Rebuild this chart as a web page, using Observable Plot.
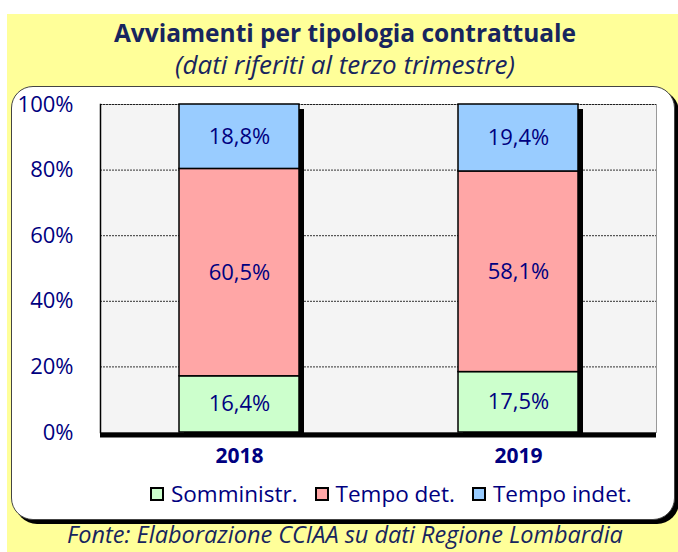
<!DOCTYPE html>
<html>
<head>
<meta charset="utf-8">
<script src="https://cdn.jsdelivr.net/npm/d3@7"></script>
<script src="https://cdn.jsdelivr.net/npm/@observablehq/plot@0.6"></script>
<style>
  html, body { margin: 0; padding: 0; background: #fff; }
  #root { position: relative; width: 678px; height: 552px; overflow: hidden; font-family: "Open Sans", Lato, sans-serif; }
  #yellow { position: absolute; left: 7px; top: 14px; width: 671px; height: 538px; background: #FFFF99; }
  #panel { position: absolute; left: 11px; top: 86px; width: 662px; height: 432px; background: #fff; border: 1px solid #444; border-radius: 22px; box-shadow: 4px 4px 0 #000; }
  #title { position: absolute; left: 0; width: 690px; top: 18px; text-align: center; font-weight: bold; font-size: 24.5px; line-height: 30px; color: #17255E; }
  #subtitle { position: absolute; left: 0; width: 690px; top: 49px; text-align: center; font-style: italic; font-size: 26px; line-height: 30px; color: #17255E; }
  #chart { position: absolute; left: 0; top: 86px; }
  #legend { position: absolute; left: 150px; top: 479px; display: flex; gap: 17px; font-size: 22.5px; line-height: 30px; color: #000080; }
  #legend span.item { display: flex; align-items: center; }
  #legend span.sw { display: inline-block; width: 10px; height: 10px; border: 2px solid #000; margin-right: 7px; }
  #caption { position: absolute; left: 0; width: 690px; top: 521px; text-align: center; font-style: italic; font-size: 23.5px; line-height: 26px; color: #17255E; white-space: nowrap; }
</style>
</head>
<body>
<div id="root">
  <div id="yellow"></div>
  <div id="panel"></div>
  <div id="title">Avviamenti per tipologia contrattuale</div>
  <div id="subtitle">(dati riferiti al terzo trimestre)</div>
  <div id="chart"></div>
  <div id="legend"></div>
  <div id="caption">Fonte: Elaborazione CCIAA su dati Regione Lombardia</div>
</div>
<script>
const years = ["2018", "2019"];
const series = ["Somministr.", "Tempo det.", "Tempo indet."];
const colors = ["#CCFFCC", "#FFA6A6", "#99CCFF"];
const somministr = [16.4, 17.5];
const tempoDet = [60.5, 58.1];
const tempoIndet = [18.8, 19.4];
const yTicks = [0, 0.2, 0.4, 0.6, 0.8, 1];

const values = [somministr, tempoDet, tempoIndet];
const data = [];
years.forEach((yr, i) => {
  series.forEach((s, j) => data.push({ year: yr, series: s, value: values[j][i] }));
});

const fmt = v => v.toFixed(1).replace(".", ",") + "%";

const chart = Plot.plot({
  width: 678,
  height: 420,
  marginTop: 18,
  marginBottom: 74,
  marginLeft: 100,
  marginRight: 22,
  style: { fontFamily: "'Open Sans', Lato, sans-serif", background: "transparent", overflow: "visible" },
  x: { type: "band", domain: years, paddingInner: 0.57, paddingOuter: 0.28, label: null },
  y: { domain: [0, 1], label: null },
  color: { domain: series, range: colors },
  marks: [
    Plot.frame({ fill: "#F4F4F4", stroke: "#999" }),
    Plot.gridY(yTicks.slice(1), { stroke: "#000", strokeOpacity: 1, strokeDasharray: "2,1", strokeWidth: 0.8 }),
    Plot.frame({ anchor: "left", stroke: "#000", strokeWidth: 1.5 }),
    Plot.barY(years, { x: d => d, y1: () => 0, y2: () => 1, fill: "#000", dx: 5, dy: 5 }),
    Plot.barY(data, Plot.stackY({ offset: "normalize", x: "year", y: "value", fill: "series", stroke: "#000", strokeWidth: 1.5 })),
    Plot.text(data, Plot.stackY({ offset: "normalize", x: "year", y: "value", text: d => fmt(d.value), fill: "#000080", fontSize: 22 })),
    Plot.ruleY([0], { stroke: "#000", strokeWidth: 5, dy: 2.5 }),
    Plot.axisY({ ticks: yTicks, tickFormat: d => Math.round(d * 100) + "%", tickSize: 0, tickPadding: 27, fontSize: 22, fill: "#000080", label: null }),
    Plot.axisX({ tickSize: 0, tickPadding: 16, fontSize: 21, fontWeight: "bold", fill: "#000080", label: null })
  ]
});
document.getElementById("chart").appendChild(chart);

const legend = document.getElementById("legend");
series.forEach((s, i) => {
  const item = document.createElement("span");
  item.className = "item";
  const sw = document.createElement("span");
  sw.className = "sw";
  sw.style.background = colors[i];
  item.appendChild(sw);
  item.appendChild(document.createTextNode(s));
  legend.appendChild(item);
});
</script>
</body>
</html>
